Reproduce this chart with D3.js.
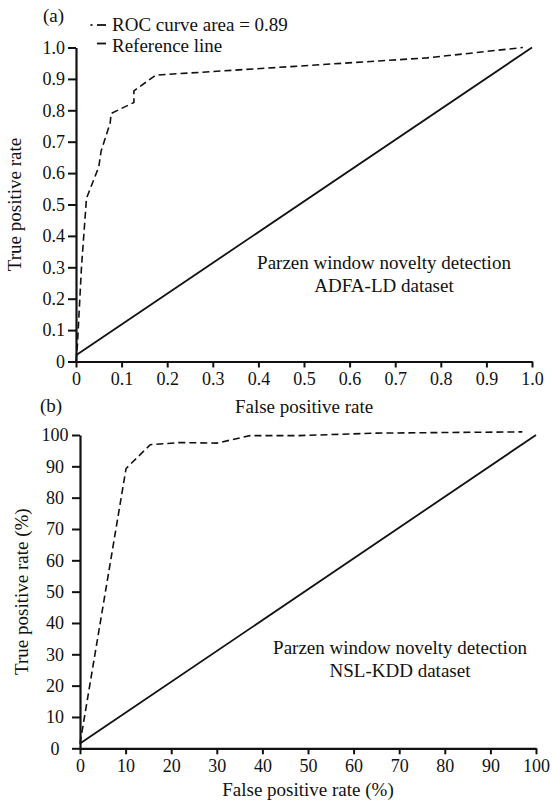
<!DOCTYPE html>
<html>
<head>
<meta charset="utf-8">
<script src="https://cdn.jsdelivr.net/npm/d3@7"></script>
<style>
  body { margin: 0; background: #fff; }
  svg text { font-family: "Liberation Serif", "Times New Roman", serif; fill: #111; }
</style>
</head>
<body>
<svg id="chart" width="552" height="804"></svg>
<script>
// (a) ADFA-LD ROC curve
const rocAFpr = [0, 0.003, 0.012, 0.023, 0.05, 0.055, 0.075, 0.077, 0.127, 0.127, 0.175, 0.48, 0.77, 0.98];
const rocATpr = [0, 0.05, 0.3, 0.52, 0.62, 0.67, 0.76, 0.79, 0.825, 0.862, 0.912, 0.94, 0.967, 1.0];
const refAFpr = [0, 1.0];
const refATpr = [0.02, 1.0];
const ticksA = [0, 0.1, 0.2, 0.3, 0.4, 0.5, 0.6, 0.7, 0.8, 0.9, 1.0];

// (b) NSL-KDD ROC curve (%)
const rocBFpr = [0, 10.1, 15.4, 21.9, 30, 37.3, 48, 65, 97];
const rocBTpr = [1.5, 89.3, 96.9, 97.6, 97.4, 99.8, 99.8, 100.6, 101];
const refBFpr = [0, 100];
const refBTpr = [1.5, 100];
const ticksB = [0, 10, 20, 30, 40, 50, 60, 70, 80, 90, 100];

const svg = d3.select('#chart');

function fmtA(d) {
    // 0 без десятичных, остальные с одним знаком
    return d === 0 ? '0' : d.toFixed(1);
}

function drawPanel(cfg) {
    const x = d3.scaleLinear().domain(cfg.xDomain).range(cfg.xRange);
    const y = d3.scaleLinear().domain(cfg.yDomain).range(cfg.yRange);
    const g = svg.append('g');

    const xAxis = g.append('g')
        .attr('transform', `translate(0,${cfg.yRange[0]})`)
        .call(d3.axisBottom(x).tickValues(cfg.ticks).tickFormat(cfg.fmt).tickSize(6).tickSizeOuter(0).tickPadding(5));
    const yAxis = g.append('g')
        .attr('transform', `translate(${cfg.xRange[0]},0)`)
        .call(d3.axisLeft(y).tickValues(cfg.ticks).tickFormat(cfg.fmt).tickSize(8).tickSizeOuter(0).tickPadding(cfg.yPad));

    [xAxis, yAxis].forEach(a => {
        a.attr('font-family', null).attr('font-size', null);
        a.select('.domain').attr('stroke', '#111').attr('stroke-width', 2.2);
        a.selectAll('.tick line').attr('stroke', '#111').attr('stroke-width', 2);
        a.selectAll('.tick text').style('font-size', '18px')
            .style('font-family', '"Liberation Serif", serif').attr('fill', '#111');
    });
    if (cfg.yAnchor) {
        yAxis.selectAll('.tick text').attr('text-anchor', 'middle').attr('x', cfg.yAnchor - cfg.xRange[0]);
    }

    const line = d3.line().x(d => x(d[0])).y(d => y(d[1]));

    g.append('path')
        .datum(cfg.refX.map((v, i) => [v, cfg.refY[i]]))
        .attr('d', line)
        .attr('fill', 'none').attr('stroke', '#111').attr('stroke-width', 1.8);

    g.append('path')
        .datum(cfg.rocX.map((v, i) => [v, cfg.rocY[i]]))
        .attr('d', line)
        .attr('fill', 'none').attr('stroke', '#111').attr('stroke-width', 1.6)
        .attr('stroke-dasharray', '7,4');

    // подписи
    g.append('text')
        .attr('x', (cfg.xRange[0] + cfg.xRange[1]) / 2)
        .attr('y', cfg.xTitleY)
        .attr('text-anchor', 'middle')
        .style('font-size', '19px')
        .text(cfg.xTitle);

    g.append('text')
        .attr('transform', `translate(${cfg.yTitleX},${(cfg.yRange[0] + cfg.yRange[1]) / 2}) rotate(-90)`)
        .attr('text-anchor', 'middle')
        .style('font-size', '19px')
        .text(cfg.yTitle);

    cfg.note.forEach((t, i) => {
        g.append('text')
            .attr('x', cfg.noteX)
            .attr('y', cfg.noteY + i * 23)
            .attr('text-anchor', 'middle')
            .style('font-size', '19px')
            .text(t);
    });

    g.append('text')
        .attr('x', cfg.labelPos[0])
        .attr('y', cfg.labelPos[1])
        .style('font-size', '19px')
        .text(cfg.label);
}

drawPanel({
    xDomain: [0, 1], xRange: [76, 532],
    yDomain: [0, 1], yRange: [361.5, 47.5],
    ticks: ticksA, fmt: fmtA, yPad: 3,
    rocX: rocAFpr, rocY: rocATpr, refX: refAFpr, refY: refATpr,
    xTitle: 'False positive rate', xTitleY: 413,
    yTitle: 'True positive rate', yTitleX: 21,
    note: ['Parzen window novelty detection', 'ADFA-LD dataset'], noteX: 384, noteY: 269,
    label: '(a)', labelPos: [43, 22]
});

drawPanel({
    xDomain: [0, 100], xRange: [80, 536],
    yDomain: [0, 100], yRange: [748.3, 435],
    ticks: ticksB, fmt: d3.format('d'), yPad: 3, yAnchor: 55,
    rocX: rocBFpr, rocY: rocBTpr, refX: refBFpr, refY: refBTpr,
    xTitle: 'False positive rate (%)', xTitleY: 796,
    yTitle: 'True positive rate (%)', yTitleX: 28,
    note: ['Parzen window novelty detection', 'NSL-KDD dataset'], noteX: 400, noteY: 654,
    label: '(b)', labelPos: [40, 412]
});

// легенда панели (a)
const legend = svg.append('g');
legend.append('line').attr('x1', 90.5).attr('x2', 92.5).attr('y1', 25).attr('y2', 25)
    .attr('stroke', '#111').attr('stroke-width', 1.8);
legend.append('line').attr('x1', 97).attr('x2', 106).attr('y1', 25).attr('y2', 25)
    .attr('stroke', '#111').attr('stroke-width', 1.8);
legend.append('line').attr('x1', 97).attr('x2', 106).attr('y1', 43.5).attr('y2', 43.5)
    .attr('stroke', '#111').attr('stroke-width', 1.8);
legend.append('text').attr('x', 112).attr('y', 31).style('font-size', '19px').text('ROC curve area = 0.89');
legend.append('text').attr('x', 112).attr('y', 52).style('font-size', '19px').text('Reference line');
</script>
</body>
</html>
